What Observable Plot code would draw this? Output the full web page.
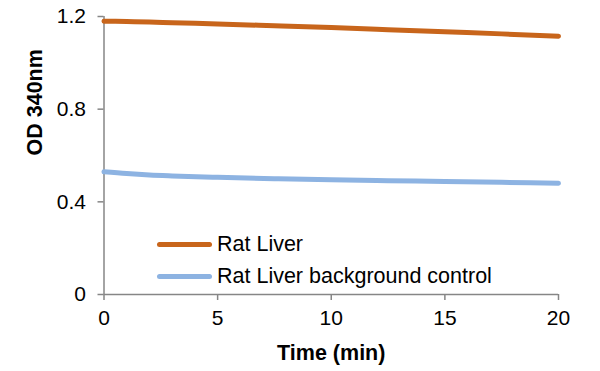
<!DOCTYPE html>
<html><head><meta charset="utf-8">
<script src="https://cdn.jsdelivr.net/npm/d3@7"></script>
<script src="https://cdn.jsdelivr.net/npm/@observablehq/plot@0.6"></script>
<style>
body{margin:0;background:#fff;}
#wrap{position:relative;width:600px;height:371px;font-family:"Liberation Sans",Arial,sans-serif;}
.legend{position:absolute;left:157px;top:228px;font-size:21.5px;color:#000;}
.item{display:flex;align-items:center;height:32px;}
.sw{width:55px;height:5px;border-radius:3px;margin-right:5px;}
</style></head><body><div id="wrap"></div>
<script>
const time = [0, 1, 2, 3, 5, 7.5, 10, 12.5, 15, 17.5, 20];
const ratLiver = [1.180, 1.178, 1.176, 1.173, 1.168, 1.160, 1.152, 1.143, 1.134, 1.125, 1.115];
const ratLiverBg = [0.530, 0.522, 0.516, 0.512, 0.506, 0.500, 0.495, 0.491, 0.488, 0.484, 0.480];
const seriesNames = ["Rat Liver", "Rat Liver background control"];
const seriesColors = ["#C8651B", "#8DB3E2"];
const xTicks = [0, 5, 10, 15, 20];
const xTickLabels = ["0", "5", "10", "15", "20"];
const yTicks = [0, 0.4, 0.8, 1.2];
const yTickLabels = ["0", "0.4", "0.8", "1.2"];
const xTitle = "Time (min)";
const yTitle = "OD 340nm";

const rows = [];
time.forEach((t, i) => {
  rows.push({time: t, value: ratLiver[i], series: seriesNames[0]});
});
time.forEach((t, i) => {
  rows.push({time: t, value: ratLiverBg[i], series: seriesNames[1]});
});

const axisColor = "#868686";
const chart = Plot.plot({
  width: 600, height: 371,
  marginLeft: 103.5, marginRight: 42, marginTop: 16, marginBottom: 77,
  style: {fontFamily: "'Liberation Sans', Arial, sans-serif", fontSize: "21px", color: "#000", background: "#fff", overflow: "visible"},
  x: {domain: [0, 20]},
  y: {domain: [0, 1.2]},
  color: {domain: seriesNames, range: seriesColors},
  marks: [
    Plot.axisY(yTicks, {tickSize: 6, tickPadding: 12, stroke: axisColor, strokeWidth: 1.5, fill: "#000", fontSize: 21, tickFormat: d => yTickLabels[yTicks.indexOf(d)], label: null}),
    Plot.axisX(xTicks, {tickSize: 6, tickPadding: 10, stroke: axisColor, strokeWidth: 1.5, fill: "#000", fontSize: 21, tickFormat: d => xTickLabels[xTicks.indexOf(d)], label: null}),
    Plot.ruleX([0], {stroke: axisColor, strokeWidth: 1.5}),
    Plot.ruleY([0], {stroke: axisColor, strokeWidth: 1.5}),
    Plot.line(rows, {x: "time", y: "value", z: "series", stroke: "series", strokeWidth: 5, strokeLinecap: "round", curve: "monotone-x"}),
    Plot.text([yTitle], {frameAnchor: "left", rotate: -90, dx: -68.5, fontWeight: "bold", fontSize: 21.5, fill: "#000"}),
    Plot.text([xTitle], {frameAnchor: "bottom", dy: 65, fontWeight: "bold", fontSize: 21.5, fill: "#000"})
  ]
});
const wrap = document.getElementById("wrap");
wrap.appendChild(chart);
const legend = document.createElement("div");
legend.className = "legend";
seriesNames.forEach((name, i) => {
  const item = document.createElement("div");
  item.className = "item";
  const sw = document.createElement("span");
  sw.className = "sw";
  sw.style.background = seriesColors[i];
  const label = document.createElement("span");
  label.textContent = name;
  item.appendChild(sw);
  item.appendChild(label);
  legend.appendChild(item);
});
wrap.appendChild(legend);
</script>
</body></html>
